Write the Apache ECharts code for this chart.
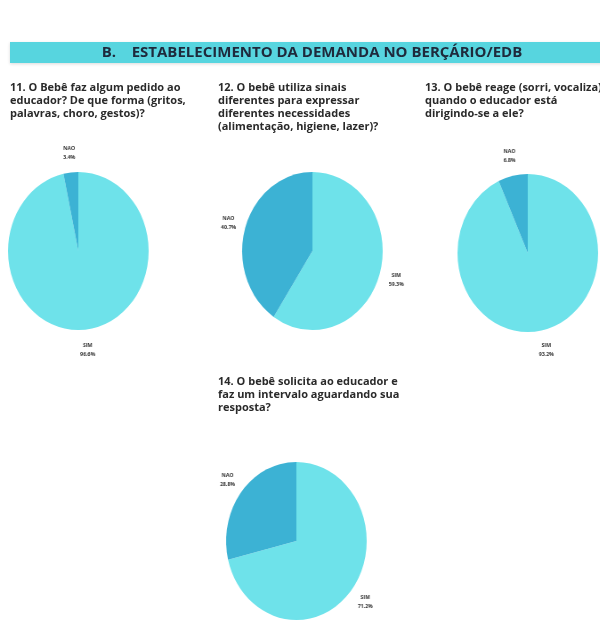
<!DOCTYPE html>
<html>
<head>
<meta charset="utf-8">
<script src="https://cdn.jsdelivr.net/npm/echarts@6/dist/echarts.min.js"></script>
<style>
  html, body { margin: 0; padding: 0; background: #ffffff; overflow: hidden; }
  #wrap { position: relative; width: 600px; height: 620px; overflow: hidden; }
  #text { position: absolute; left: 0; top: 0; width: 600px; height: 620px; }
  /* pies are drawn slightly narrowed horizontally */
  #pies { position: absolute; left: 0; top: 0; width: 674px; height: 620px;
          transform: scaleX(0.89); transform-origin: 0 0; }
</style>
</head>
<body>
<div id="wrap"><div id="text"></div><div id="pies"></div></div>
<script>
// Section heading
const heading = 'B.    ESTABELECIMENTO DA DEMANDA NO BERÇÁRIO/EDB';

// Questions (one per pie)
const questions = [
  '11. O Bebê faz algum pedido ao\neducador? De que forma (gritos,\npalavras, choro, gestos)?',
  '12. O bebê utiliza sinais\ndiferentes para expressar\ndiferentes necessidades\n(alimentação, higiene, lazer)?',
  '13. O bebê reage (sorri, vocaliza)\nquando o educador está\ndirigindo-se a ele?',
  '14. O bebê solicita ao educador e\nfaz um intervalo aguardando sua\nresposta?'
];

// Answer categories
const answers = ['SIM', 'NAO'];

// Percentages per question, in the order of answers
const q11 = [96.6, 3.4];
const q12 = [59.3, 40.7];
const q13 = [93.2, 6.8];
const q14 = [71.2, 28.8];

const colors = ['#6ee2ea', '#3cb2d4'];

const textChart = echarts.init(document.getElementById('text'), null, { renderer: 'canvas' });
const pieChart = echarts.init(document.getElementById('pies'), null, { renderer: 'canvas' });

const qStyle = { fontFamily: 'Open Sans', fontSize: 11, fontWeight: 'bold', fill: '#2a2a2a', lineHeight: 13 };

textChart.setOption({
  animation: false,
  graphic: [
    { type: 'rect', shape: { x: 10, y: 42, width: 600, height: 21 },
      style: { fill: '#57d5df', shadowBlur: 3, shadowColor: 'rgba(0,0,0,0.15)', shadowOffsetY: 1 } },
    { type: 'text', x: 312, y: 53,
      style: { text: heading, fontFamily: 'Open Sans', fontSize: 15, fontWeight: 'bold', fill: '#1e2a3c',
               align: 'center', verticalAlign: 'middle' } },
    { type: 'text', x: 10, y: 81, style: Object.assign({ text: questions[0] }, qStyle) },
    { type: 'text', x: 218, y: 81, style: Object.assign({ text: questions[1] }, qStyle) },
    { type: 'text', x: 425, y: 81, style: Object.assign({ text: questions[2] }, qStyle) },
    { type: 'text', x: 218, y: 375, style: Object.assign({ text: questions[3] }, qStyle) }
  ]
});

const R = 79;      // pie radius
const GAP = 11;    // distance between rim and label box

// Place each label just outside the rim, centred on its slice's mid-angle
function makeLabelLayout(values, center) {
  const total = values.reduce((a, b) => a + b, 0);
  return function (params) {
    let before = 0;
    for (let i = 0; i < params.dataIndex; i++) before += values[i];
    // measured from 12 o'clock, clockwise positive
    const theta = (before + values[params.dataIndex] / 2) / total * 2 * Math.PI;
    const ux = Math.sin(theta), uy = -Math.cos(theta);
    const w = params.labelRect.width, h = params.labelRect.height;
    return {
      x: center[0] + ux * (R + GAP) + ux * w / 2,
      y: center[1] + uy * (R + GAP) + uy * h / 2,
      align: 'center',
      verticalAlign: 'middle'
    };
  };
}

function pie(values, center) {
  return {
    type: 'pie',
    center: center,
    radius: R,
    startAngle: 90,
    clockwise: true,
    silent: true,
    data: answers.map((a, i) => ({ name: a, value: values[i], itemStyle: { color: colors[i] } })),
    label: {
      show: true,
      position: 'outside',
      formatter: p => p.name + '\n' + p.value.toFixed(1) + '%',
      fontSize: 5.8,
      fontWeight: 'bold',
      lineHeight: 9,
      color: '#333333',
      fontFamily: 'Open Sans'
    },
    labelLine: { show: false, length: 10, length2: 0 },
    labelLayout: makeLabelLayout(values, center),
    itemStyle: { borderWidth: 0 }
  };
}

pieChart.setOption({
  animation: false,
  backgroundColor: 'transparent',
  series: [
    pie(q11, [88, 251]),
    pie(q12, [351, 251]),
    pie(q13, [593, 253]),
    pie(q14, [333, 541])
  ]
});
</script>
</body>
</html>
